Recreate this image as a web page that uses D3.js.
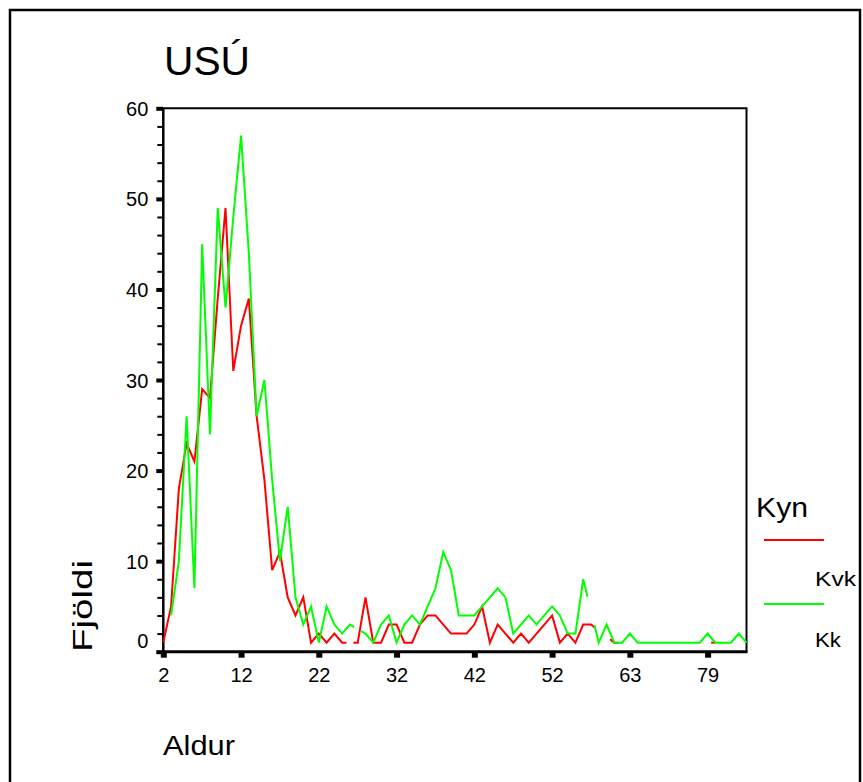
<!DOCTYPE html>
<html><head><meta charset="utf-8">
<script src="https://cdn.jsdelivr.net/npm/d3@7"></script>
<style>
html,body{margin:0;padding:0;background:#fff;}
svg{display:block;font-family:"Liberation Sans",Arial,Helvetica,sans-serif;}
</style></head>
<body>
<svg id="chart" width="863" height="782"></svg>
<script>
// ---- data ----
const ages = [2,3,4,5,6,7,8,9,10,11,12,13,14,15,16,17,18,19,20,21,22,23,24,25,26,27,28,29,30,31,32,33,34,35,36,37,38,39,40,41,42,43,44,45,46,47,48,49,50,51,52,
  53,54,55,56,57,58,59,60,61,63,
  64,65,66,67,68,70,72,74,76,79,
  80,81,83,84,86];
const tickAges = [2,12,22,32,42,52,63,79];
const kvk = [1,5,18,23,21,29,28,39,49,31,36,39,26,19,9,11,6,4,6,1,2,1,2,1,null,1,6,1,1,3,3,1,1,3,4,4,3,2,2,2,3,5,1,3,2,1,2,1,2,3,4,
  1,2,1,3,3,null,null,1,null,null,
  null,null,null,null,null,null,null,null,null,null,
  1,null,null,null,null];
const kk = [null,4,10,26,7,45,24,49,38,48,57,44,26,30,19,10,16,6,3,5,1,5,3,2,3,null,2,1,3,4,1,3,4,3,5,7,11,9,4,4,4,5,6,7,6,2,3,4,3,4,5,
  4,2,2,8,null,1,3,1,1,2,
  1,1,1,1,1,1,1,1,1,2,
  1,1,1,2,1];
const yTicks = [0,10,20,30,40,50,60];
const seriesNames = ["Kvk","Kk"];
const seriesColors = ["#ff0000","#00ff00"];

// ---- layout ----
const svg = d3.select("#chart");
const L = 163.3, R = 746.5, T = 108.3, B = 651.7;

svg.append("rect").attr("x",10).attr("y",10).attr("width",850).attr("height",800)
  .attr("fill","none").attr("stroke","#000").attr("stroke-width",2.5);

const x = d3.scalePoint().domain(ages).range([L,R]);
const xi = d3.scaleLinear().domain([0,ages.length-1]).range([L,R]);
const y = d3.scaleLinear().domain([0,60]).range([B,T]);

// plot frame (top & right)
svg.append("path").attr("d",`M${L},${T}H${R}V${B}`).attr("fill","none").attr("stroke","#000").attr("stroke-width",2);

// y axis
const yAxisMinor = d3.axisLeft(y).tickValues(d3.range(0,61,2)).tickSize(6).tickFormat("");
const gyMinor = svg.append("g").attr("transform",`translate(${L},0)`).call(yAxisMinor);
gyMinor.select(".domain").remove();
gyMinor.selectAll("line").attr("stroke","#000").attr("stroke-width",2);
const yAxis = d3.axisLeft(y).tickValues(yTicks).tickSize(7).tickPadding(8);
const gy = svg.append("g").attr("transform",`translate(${L},0)`).call(yAxis);
gy.select(".domain").attr("stroke","#000").attr("stroke-width",2.5).attr("d",`M0,${T}V${B+1}`);
gy.selectAll("line").attr("stroke","#000").attr("stroke-width",4);
gy.selectAll("text").attr("font-size",20).attr("fill","#000").attr("font-family","Liberation Sans, Arial, sans-serif")
  .attr("dy",d => d===0 ? "-0.2em" : "0.35em");

// x axis
const xAxis = d3.axisBottom(x).tickValues(tickAges).tickSize(6).tickPadding(10);
const gx = svg.append("g").attr("transform",`translate(0,${B})`).call(xAxis);
gx.select(".domain").attr("stroke","#000").attr("stroke-width",3).attr("d",`M${L-1},0H${R+1}`);
gx.selectAll(".tick line").attr("stroke","#000").attr("stroke-width",6).attr("y1",1).attr("y2",6);
gx.selectAll("text").attr("font-size",20).attr("fill","#000").attr("font-family","Liberation Sans, Arial, sans-serif");

// ---- lines with gaps at missing categories ----
const line = d3.line().x(d => xi(d[0])).y(d => y(d[1]));
const stub = 0.55;
function pieces(vals){
  const D = [];
  vals.forEach((v,i)=>{ if(v!==null) D.push(i); });
  const segs = [];
  let cur = [[D[0], vals[D[0]]]];
  for(let k=0;k<D.length-1;k++){
    const i=D[k], j=D[k+1], vi=vals[i], vj=vals[j];
    if(j===i+1){ cur.push([j,vj]); }
    else {
      const f = stub/(j-i);
      cur.push([i+(j-i)*f, vi+(vj-vi)*f]);
      segs.push(cur);
      cur = [[j-(j-i)*f, vj-(vj-vi)*f],[j,vj]];
    }
  }
  segs.push(cur);
  return segs;
}
[kvk,kk].forEach((vals,s)=>{
  svg.append("g").selectAll("path").data(pieces(vals)).join("path")
    .attr("d",line).attr("fill","none").attr("stroke",seriesColors[s])
    .attr("stroke-width",2).attr("stroke-linejoin","miter");
});

// ---- texts ----
svg.append("text").attr("x",164).attr("y",75).attr("font-size",40).attr("textLength",86)
  .attr("lengthAdjust","spacingAndGlyphs").text("USÚ");
svg.append("text").attr("transform","translate(92,652) rotate(-90)").attr("text-anchor","start")
  .attr("font-size",27).attr("textLength",92).attr("lengthAdjust","spacingAndGlyphs").text("Fjöldi");
svg.append("text").attr("x",163).attr("y",755).attr("font-size",27).attr("textLength",72)
  .attr("lengthAdjust","spacingAndGlyphs").text("Aldur");

// legend
svg.append("text").attr("x",756).attr("y",517).attr("font-size",27).attr("textLength",52)
  .attr("lengthAdjust","spacingAndGlyphs").text("Kyn");
const leg = svg.append("g").selectAll("g").data(seriesNames).join("g");
leg.append("line").attr("x1",764).attr("x2",824).attr("y1",(d,i)=>540+i*64).attr("y2",(d,i)=>540+i*64)
  .attr("stroke",(d,i)=>seriesColors[i]).attr("stroke-width",2);
leg.append("text").attr("x",815).attr("y",(d,i)=>586+i*61).attr("font-size",21)
  .attr("textLength",(d,i)=>[41,26][i]).attr("lengthAdjust","spacingAndGlyphs").text(d=>d);
</script>
</body></html>
